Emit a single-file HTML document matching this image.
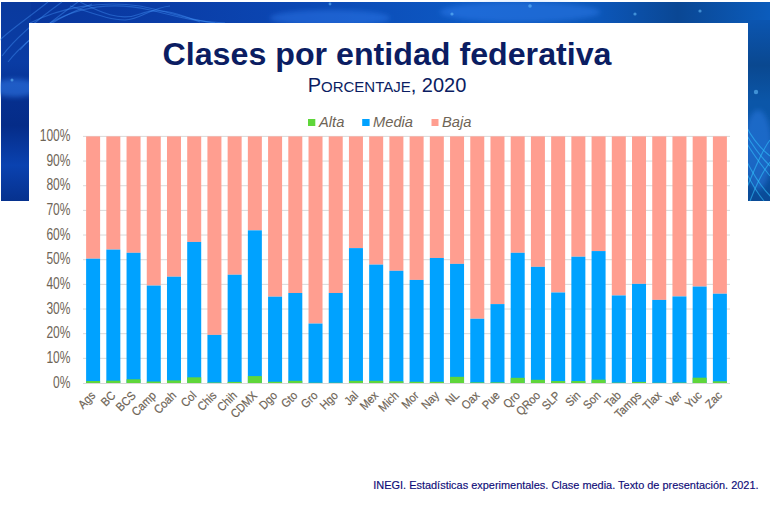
<!DOCTYPE html>
<html><head><meta charset="utf-8"><style>
html,body{margin:0;padding:0;}
body{width:770px;height:517px;position:relative;overflow:hidden;background:#fff;font-family:"Liberation Sans",sans-serif;}
#band{position:absolute;left:0;top:0;}
#panel{position:absolute;left:29px;top:23px;width:719px;height:494px;background:#fff;}
#title{position:absolute;left:0;top:35px;width:774px;text-align:center;font-weight:bold;font-size:32.2px;color:#0B1D62;line-height:38px;white-space:nowrap;}
#sub{position:absolute;left:0;top:73.6px;width:774px;text-align:center;font-size:20px;color:#0B1D62;line-height:22px;white-space:nowrap;}
#sub .sc{font-size:15px;}
svg{position:absolute;left:0;top:0;}
.yl{font-family:"Liberation Sans",sans-serif;font-size:14.5px;fill:#6E6456;}
.xl{font-family:"Liberation Sans",sans-serif;font-size:12px;fill:#6E6456;stroke:#6E6456;stroke-width:0.2px;}
.lg{font-family:"Liberation Sans",sans-serif;font-size:14.7px;font-style:italic;fill:#6E6456;}
#foot{position:absolute;left:373.3px;top:479px;font-size:10.95px;color:#0E0C78;-webkit-text-stroke:0.15px #0E0C78;white-space:nowrap;line-height:13px;}
</style></head><body>
<svg id="band" width="770" height="205" viewBox="0 0 770 205">
<defs>
<linearGradient id="gl" x1="0" y1="0" x2="0" y2="1">
<stop offset="0" stop-color="#0a3a9e"/><stop offset="0.3" stop-color="#0a3ca4"/><stop offset="0.5" stop-color="#062f8e"/><stop offset="0.62" stop-color="#052c88"/><stop offset="0.82" stop-color="#0a42b0"/><stop offset="1" stop-color="#06318e"/>
</linearGradient>
<linearGradient id="gt" x1="0" y1="0" x2="1" y2="0">
<stop offset="0" stop-color="#08349a"/><stop offset="0.2" stop-color="#0a3ca6"/><stop offset="0.4" stop-color="#0b48b4"/><stop offset="0.6" stop-color="#0d58c2"/><stop offset="0.78" stop-color="#0c56b8"/><stop offset="0.88" stop-color="#0a4794"/><stop offset="1" stop-color="#0b5cbc"/>
</linearGradient>
<linearGradient id="gr" x1="0" y1="0" x2="0" y2="1">
<stop offset="0" stop-color="#0b55b0"/><stop offset="0.25" stop-color="#0a4890"/><stop offset="0.45" stop-color="#0b56a8"/><stop offset="0.7" stop-color="#0a56aa"/><stop offset="1" stop-color="#0a4a96"/>
</linearGradient>
</defs>
<rect x="1" y="2" width="769" height="199" fill="url(#gt)"/>
<rect x="1" y="2" width="30" height="199" fill="url(#gl)"/>
<rect x="746" y="20" width="24" height="181" fill="url(#gr)"/>
<filter id="bl" x="-10%" y="-10%" width="120%" height="120%"><feGaussianBlur stdDeviation="0.7"/></filter>
<filter id="bl2" x="-50%" y="-50%" width="200%" height="200%"><feGaussianBlur stdDeviation="2.5"/></filter>
<g filter="url(#bl2)" fill="#3a8cff" fill-opacity="0.35">
<ellipse cx="15" cy="88" rx="24" ry="9" fill-opacity="0.45"/>
<ellipse cx="330" cy="18" rx="60" ry="8"/>
<ellipse cx="520" cy="12" rx="80" ry="10"/>
<ellipse cx="758" cy="150" rx="14" ry="40"/>
</g>
<g filter="url(#bl)" fill="none" stroke="#4a9aff" stroke-opacity="0.38" stroke-width="1.1">
<path d="M0 40 C 10 30, 28 18, 48 2"/>
<path d="M2 56 C 14 40, 34 22, 62 2"/>
<path d="M8 62 C 20 46, 42 28, 78 2"/>
<path d="M20 50 C 30 38, 50 20, 92 4"/>
<path d="M30 23 C 60 8, 100 0, 140 6 C 170 12, 190 20, 215 23"/>
<path d="M50 23 C 80 6, 115 2, 150 10 C 175 16, 195 22, 225 23"/>
<path d="M70 6 C 95 14, 110 20, 125 20 C 140 20, 150 8, 170 6"/>
<path d="M80 2 C 100 12, 120 22, 140 14 C 155 8, 170 10, 200 22"/>
</g>
<g filter="url(#bl)" fill="none" stroke="#33c4ff" stroke-opacity="0.55" stroke-width="1.1">
<path d="M746 126 C 752 138, 760 148, 770 156"/>
<path d="M746 134 C 754 148, 762 158, 770 166"/>
<path d="M746 142 C 754 156, 762 166, 770 176"/>
<path d="M746 160 C 754 176, 762 188, 772 198"/>
<path d="M746 172 C 752 184, 758 194, 764 201"/>
<path d="M746 190 C 754 170, 762 150, 770 140"/>
<path d="M750 201 C 756 185, 764 170, 770 162"/>
</g>
<g fill="#6cc4ff" fill-opacity="0.55" filter="url(#bl)">
<circle cx="530" cy="6" r="1.8"/><circle cx="635" cy="14" r="1.6"/><circle cx="700" cy="11" r="1.6"/><circle cx="452" cy="14" r="1.6"/><circle cx="756" cy="92" r="2.2"/><circle cx="12" cy="80" r="1.5"/><circle cx="330" cy="4" r="1.4"/>
</g>
</svg>
<div id="panel"></div>
<div id="title">Clases por entidad federativa</div>
<div id="sub">P<span class="sc">ORCENTAJE</span>, 2020</div>
<svg width="770" height="517" viewBox="0 0 770 517">
<rect x="308" y="119" width="7.3" height="7" fill="#5FD63A"/>
<text x="319" y="126.5" class="lg">Alta</text>
<rect x="362.2" y="119" width="7.4" height="7" fill="#00A2FF"/>
<text x="373" y="126.5" class="lg">Media</text>
<rect x="431.5" y="119" width="7" height="7" fill="#FF9E90"/>
<text x="442" y="126.5" class="lg">Baja</text>
<line x1="83.0" x2="730.0" y1="358.34" y2="358.34" stroke="#D9D9D9" stroke-width="1"/>
<line x1="83.0" x2="730.0" y1="333.68" y2="333.68" stroke="#D9D9D9" stroke-width="1"/>
<line x1="83.0" x2="730.0" y1="309.02" y2="309.02" stroke="#D9D9D9" stroke-width="1"/>
<line x1="83.0" x2="730.0" y1="284.36" y2="284.36" stroke="#D9D9D9" stroke-width="1"/>
<line x1="83.0" x2="730.0" y1="259.70" y2="259.70" stroke="#D9D9D9" stroke-width="1"/>
<line x1="83.0" x2="730.0" y1="235.04" y2="235.04" stroke="#D9D9D9" stroke-width="1"/>
<line x1="83.0" x2="730.0" y1="210.38" y2="210.38" stroke="#D9D9D9" stroke-width="1"/>
<line x1="83.0" x2="730.0" y1="185.72" y2="185.72" stroke="#D9D9D9" stroke-width="1"/>
<line x1="83.0" x2="730.0" y1="161.06" y2="161.06" stroke="#D9D9D9" stroke-width="1"/>
<line x1="83.0" x2="730.0" y1="136.40" y2="136.40" stroke="#D9D9D9" stroke-width="1"/>
<rect x="86.11" y="136.40" width="14.0" height="122.31" fill="#FF9E90"/>
<rect x="86.11" y="258.71" width="14.0" height="124.29" fill="#00A2FF"/>
<rect x="86.11" y="381.03" width="14.0" height="1.97" fill="#5FD63A"/>
<rect x="106.33" y="136.40" width="14.0" height="113.19" fill="#FF9E90"/>
<rect x="106.33" y="249.59" width="14.0" height="133.41" fill="#00A2FF"/>
<rect x="106.33" y="380.66" width="14.0" height="2.34" fill="#5FD63A"/>
<rect x="126.55" y="136.40" width="14.0" height="116.40" fill="#FF9E90"/>
<rect x="126.55" y="252.80" width="14.0" height="130.20" fill="#00A2FF"/>
<rect x="126.55" y="379.30" width="14.0" height="3.70" fill="#5FD63A"/>
<rect x="146.77" y="136.40" width="14.0" height="149.19" fill="#FF9E90"/>
<rect x="146.77" y="285.59" width="14.0" height="97.41" fill="#00A2FF"/>
<rect x="146.77" y="381.52" width="14.0" height="1.48" fill="#5FD63A"/>
<rect x="166.98" y="136.40" width="14.0" height="140.32" fill="#FF9E90"/>
<rect x="166.98" y="276.72" width="14.0" height="106.28" fill="#00A2FF"/>
<rect x="166.98" y="380.41" width="14.0" height="2.59" fill="#5FD63A"/>
<rect x="187.20" y="136.40" width="14.0" height="105.54" fill="#FF9E90"/>
<rect x="187.20" y="241.94" width="14.0" height="141.06" fill="#00A2FF"/>
<rect x="187.20" y="377.33" width="14.0" height="5.67" fill="#5FD63A"/>
<rect x="207.42" y="136.40" width="14.0" height="198.51" fill="#FF9E90"/>
<rect x="207.42" y="334.91" width="14.0" height="48.09" fill="#00A2FF"/>
<rect x="207.42" y="382.51" width="14.0" height="0.49" fill="#5FD63A"/>
<rect x="227.64" y="136.40" width="14.0" height="138.34" fill="#FF9E90"/>
<rect x="227.64" y="274.74" width="14.0" height="108.26" fill="#00A2FF"/>
<rect x="227.64" y="381.89" width="14.0" height="1.11" fill="#5FD63A"/>
<rect x="247.86" y="136.40" width="14.0" height="93.95" fill="#FF9E90"/>
<rect x="247.86" y="230.35" width="14.0" height="152.65" fill="#00A2FF"/>
<rect x="247.86" y="376.10" width="14.0" height="6.90" fill="#5FD63A"/>
<rect x="268.08" y="136.40" width="14.0" height="160.29" fill="#FF9E90"/>
<rect x="268.08" y="296.69" width="14.0" height="86.31" fill="#00A2FF"/>
<rect x="268.08" y="381.77" width="14.0" height="1.23" fill="#5FD63A"/>
<rect x="288.30" y="136.40" width="14.0" height="156.59" fill="#FF9E90"/>
<rect x="288.30" y="292.99" width="14.0" height="90.01" fill="#00A2FF"/>
<rect x="288.30" y="380.78" width="14.0" height="2.22" fill="#5FD63A"/>
<rect x="308.52" y="136.40" width="14.0" height="187.17" fill="#FF9E90"/>
<rect x="308.52" y="323.57" width="14.0" height="59.43" fill="#00A2FF"/>
<rect x="308.52" y="382.75" width="14.0" height="0.25" fill="#5FD63A"/>
<rect x="328.73" y="136.40" width="14.0" height="156.59" fill="#FF9E90"/>
<rect x="328.73" y="292.99" width="14.0" height="90.01" fill="#00A2FF"/>
<rect x="328.73" y="382.75" width="14.0" height="0.25" fill="#5FD63A"/>
<rect x="348.95" y="136.40" width="14.0" height="111.71" fill="#FF9E90"/>
<rect x="348.95" y="248.11" width="14.0" height="134.89" fill="#00A2FF"/>
<rect x="348.95" y="380.78" width="14.0" height="2.22" fill="#5FD63A"/>
<rect x="369.17" y="136.40" width="14.0" height="128.23" fill="#FF9E90"/>
<rect x="369.17" y="264.63" width="14.0" height="118.37" fill="#00A2FF"/>
<rect x="369.17" y="380.78" width="14.0" height="2.22" fill="#5FD63A"/>
<rect x="389.39" y="136.40" width="14.0" height="134.40" fill="#FF9E90"/>
<rect x="389.39" y="270.80" width="14.0" height="112.20" fill="#00A2FF"/>
<rect x="389.39" y="381.27" width="14.0" height="1.73" fill="#5FD63A"/>
<rect x="409.61" y="136.40" width="14.0" height="143.52" fill="#FF9E90"/>
<rect x="409.61" y="279.92" width="14.0" height="103.08" fill="#00A2FF"/>
<rect x="409.61" y="381.77" width="14.0" height="1.23" fill="#5FD63A"/>
<rect x="429.83" y="136.40" width="14.0" height="121.57" fill="#FF9E90"/>
<rect x="429.83" y="257.97" width="14.0" height="125.03" fill="#00A2FF"/>
<rect x="429.83" y="381.77" width="14.0" height="1.23" fill="#5FD63A"/>
<rect x="450.05" y="136.40" width="14.0" height="127.49" fill="#FF9E90"/>
<rect x="450.05" y="263.89" width="14.0" height="119.11" fill="#00A2FF"/>
<rect x="450.05" y="376.83" width="14.0" height="6.17" fill="#5FD63A"/>
<rect x="470.27" y="136.40" width="14.0" height="182.36" fill="#FF9E90"/>
<rect x="470.27" y="318.76" width="14.0" height="64.24" fill="#00A2FF"/>
<rect x="470.27" y="382.38" width="14.0" height="0.62" fill="#5FD63A"/>
<rect x="490.48" y="136.40" width="14.0" height="167.69" fill="#FF9E90"/>
<rect x="490.48" y="304.09" width="14.0" height="78.91" fill="#00A2FF"/>
<rect x="490.48" y="382.38" width="14.0" height="0.62" fill="#5FD63A"/>
<rect x="510.70" y="136.40" width="14.0" height="116.40" fill="#FF9E90"/>
<rect x="510.70" y="252.80" width="14.0" height="130.20" fill="#00A2FF"/>
<rect x="510.70" y="377.82" width="14.0" height="5.18" fill="#5FD63A"/>
<rect x="530.92" y="136.40" width="14.0" height="130.45" fill="#FF9E90"/>
<rect x="530.92" y="266.85" width="14.0" height="116.15" fill="#00A2FF"/>
<rect x="530.92" y="379.79" width="14.0" height="3.21" fill="#5FD63A"/>
<rect x="551.14" y="136.40" width="14.0" height="156.10" fill="#FF9E90"/>
<rect x="551.14" y="292.50" width="14.0" height="90.50" fill="#00A2FF"/>
<rect x="551.14" y="381.03" width="14.0" height="1.97" fill="#5FD63A"/>
<rect x="571.36" y="136.40" width="14.0" height="120.34" fill="#FF9E90"/>
<rect x="571.36" y="256.74" width="14.0" height="126.26" fill="#00A2FF"/>
<rect x="571.36" y="381.03" width="14.0" height="1.97" fill="#5FD63A"/>
<rect x="591.58" y="136.40" width="14.0" height="114.67" fill="#FF9E90"/>
<rect x="591.58" y="251.07" width="14.0" height="131.93" fill="#00A2FF"/>
<rect x="591.58" y="379.67" width="14.0" height="3.33" fill="#5FD63A"/>
<rect x="611.80" y="136.40" width="14.0" height="159.06" fill="#FF9E90"/>
<rect x="611.80" y="295.46" width="14.0" height="87.54" fill="#00A2FF"/>
<rect x="611.80" y="382.63" width="14.0" height="0.37" fill="#5FD63A"/>
<rect x="632.02" y="136.40" width="14.0" height="147.47" fill="#FF9E90"/>
<rect x="632.02" y="283.87" width="14.0" height="99.13" fill="#00A2FF"/>
<rect x="632.02" y="381.89" width="14.0" height="1.11" fill="#5FD63A"/>
<rect x="652.23" y="136.40" width="14.0" height="163.50" fill="#FF9E90"/>
<rect x="652.23" y="299.90" width="14.0" height="83.10" fill="#00A2FF"/>
<rect x="652.23" y="382.75" width="14.0" height="0.25" fill="#5FD63A"/>
<rect x="672.45" y="136.40" width="14.0" height="160.04" fill="#FF9E90"/>
<rect x="672.45" y="296.44" width="14.0" height="86.56" fill="#00A2FF"/>
<rect x="672.45" y="382.63" width="14.0" height="0.37" fill="#5FD63A"/>
<rect x="692.67" y="136.40" width="14.0" height="150.18" fill="#FF9E90"/>
<rect x="692.67" y="286.58" width="14.0" height="96.42" fill="#00A2FF"/>
<rect x="692.67" y="377.70" width="14.0" height="5.30" fill="#5FD63A"/>
<rect x="712.89" y="136.40" width="14.0" height="157.33" fill="#FF9E90"/>
<rect x="712.89" y="293.73" width="14.0" height="89.27" fill="#00A2FF"/>
<rect x="712.89" y="381.27" width="14.0" height="1.73" fill="#5FD63A"/>
<line x1="83.0" x2="730.0" y1="383.5" y2="383.5" stroke="#D9D9D9" stroke-width="1"/>
<text transform="translate(70.5,387.50) scale(0.83,1.1)" text-anchor="end" class="yl">0%</text>
<text transform="translate(70.5,362.84) scale(0.83,1.1)" text-anchor="end" class="yl">10%</text>
<text transform="translate(70.5,338.18) scale(0.83,1.1)" text-anchor="end" class="yl">20%</text>
<text transform="translate(70.5,313.52) scale(0.83,1.1)" text-anchor="end" class="yl">30%</text>
<text transform="translate(70.5,288.86) scale(0.83,1.1)" text-anchor="end" class="yl">40%</text>
<text transform="translate(70.5,264.20) scale(0.83,1.1)" text-anchor="end" class="yl">50%</text>
<text transform="translate(70.5,239.54) scale(0.83,1.1)" text-anchor="end" class="yl">60%</text>
<text transform="translate(70.5,214.88) scale(0.83,1.1)" text-anchor="end" class="yl">70%</text>
<text transform="translate(70.5,190.22) scale(0.83,1.1)" text-anchor="end" class="yl">80%</text>
<text transform="translate(70.5,165.56) scale(0.83,1.1)" text-anchor="end" class="yl">90%</text>
<text transform="translate(70.5,140.90) scale(0.83,1.1)" text-anchor="end" class="yl">100%</text>
<text transform="translate(96.11,396.30) rotate(-45) scale(0.9,1)" text-anchor="end" class="xl">Ags</text>
<text transform="translate(116.33,396.30) rotate(-45) scale(0.9,1)" text-anchor="end" class="xl">BC</text>
<text transform="translate(136.55,396.30) rotate(-45) scale(0.9,1)" text-anchor="end" class="xl">BCS</text>
<text transform="translate(156.77,396.30) rotate(-45) scale(0.9,1)" text-anchor="end" class="xl">Camp</text>
<text transform="translate(176.98,396.30) rotate(-45) scale(0.9,1)" text-anchor="end" class="xl">Coah</text>
<text transform="translate(197.20,396.30) rotate(-45) scale(0.9,1)" text-anchor="end" class="xl">Col</text>
<text transform="translate(217.42,396.30) rotate(-45) scale(0.9,1)" text-anchor="end" class="xl">Chis</text>
<text transform="translate(237.64,396.30) rotate(-45) scale(0.9,1)" text-anchor="end" class="xl">Chih</text>
<text transform="translate(257.86,396.30) rotate(-45) scale(0.9,1)" text-anchor="end" class="xl">CDMX</text>
<text transform="translate(278.08,396.30) rotate(-45) scale(0.9,1)" text-anchor="end" class="xl">Dgo</text>
<text transform="translate(298.30,396.30) rotate(-45) scale(0.9,1)" text-anchor="end" class="xl">Gto</text>
<text transform="translate(318.52,396.30) rotate(-45) scale(0.9,1)" text-anchor="end" class="xl">Gro</text>
<text transform="translate(338.73,396.30) rotate(-45) scale(0.9,1)" text-anchor="end" class="xl">Hgo</text>
<text transform="translate(358.95,396.30) rotate(-45) scale(0.9,1)" text-anchor="end" class="xl">Jal</text>
<text transform="translate(379.17,396.30) rotate(-45) scale(0.9,1)" text-anchor="end" class="xl">Mex</text>
<text transform="translate(399.39,396.30) rotate(-45) scale(0.9,1)" text-anchor="end" class="xl">Mich</text>
<text transform="translate(419.61,396.30) rotate(-45) scale(0.9,1)" text-anchor="end" class="xl">Mor</text>
<text transform="translate(439.83,396.30) rotate(-45) scale(0.9,1)" text-anchor="end" class="xl">Nay</text>
<text transform="translate(460.05,396.30) rotate(-45) scale(0.9,1)" text-anchor="end" class="xl">NL</text>
<text transform="translate(480.27,396.30) rotate(-45) scale(0.9,1)" text-anchor="end" class="xl">Oax</text>
<text transform="translate(500.48,396.30) rotate(-45) scale(0.9,1)" text-anchor="end" class="xl">Pue</text>
<text transform="translate(520.70,396.30) rotate(-45) scale(0.9,1)" text-anchor="end" class="xl">Qro</text>
<text transform="translate(540.92,396.30) rotate(-45) scale(0.9,1)" text-anchor="end" class="xl">QRoo</text>
<text transform="translate(561.14,396.30) rotate(-45) scale(0.9,1)" text-anchor="end" class="xl">SLP</text>
<text transform="translate(581.36,396.30) rotate(-45) scale(0.9,1)" text-anchor="end" class="xl">Sin</text>
<text transform="translate(601.58,396.30) rotate(-45) scale(0.9,1)" text-anchor="end" class="xl">Son</text>
<text transform="translate(621.80,396.30) rotate(-45) scale(0.9,1)" text-anchor="end" class="xl">Tab</text>
<text transform="translate(642.02,396.30) rotate(-45) scale(0.9,1)" text-anchor="end" class="xl">Tamps</text>
<text transform="translate(662.23,396.30) rotate(-45) scale(0.9,1)" text-anchor="end" class="xl">Tlax</text>
<text transform="translate(682.45,396.30) rotate(-45) scale(0.9,1)" text-anchor="end" class="xl">Ver</text>
<text transform="translate(702.67,396.30) rotate(-45) scale(0.9,1)" text-anchor="end" class="xl">Yuc</text>
<text transform="translate(722.89,396.30) rotate(-45) scale(0.9,1)" text-anchor="end" class="xl">Zac</text>
</svg>
<div id="foot">INEGI. Estadísticas experimentales. Clase media. Texto de presentación. 2021.</div>
</body></html>
